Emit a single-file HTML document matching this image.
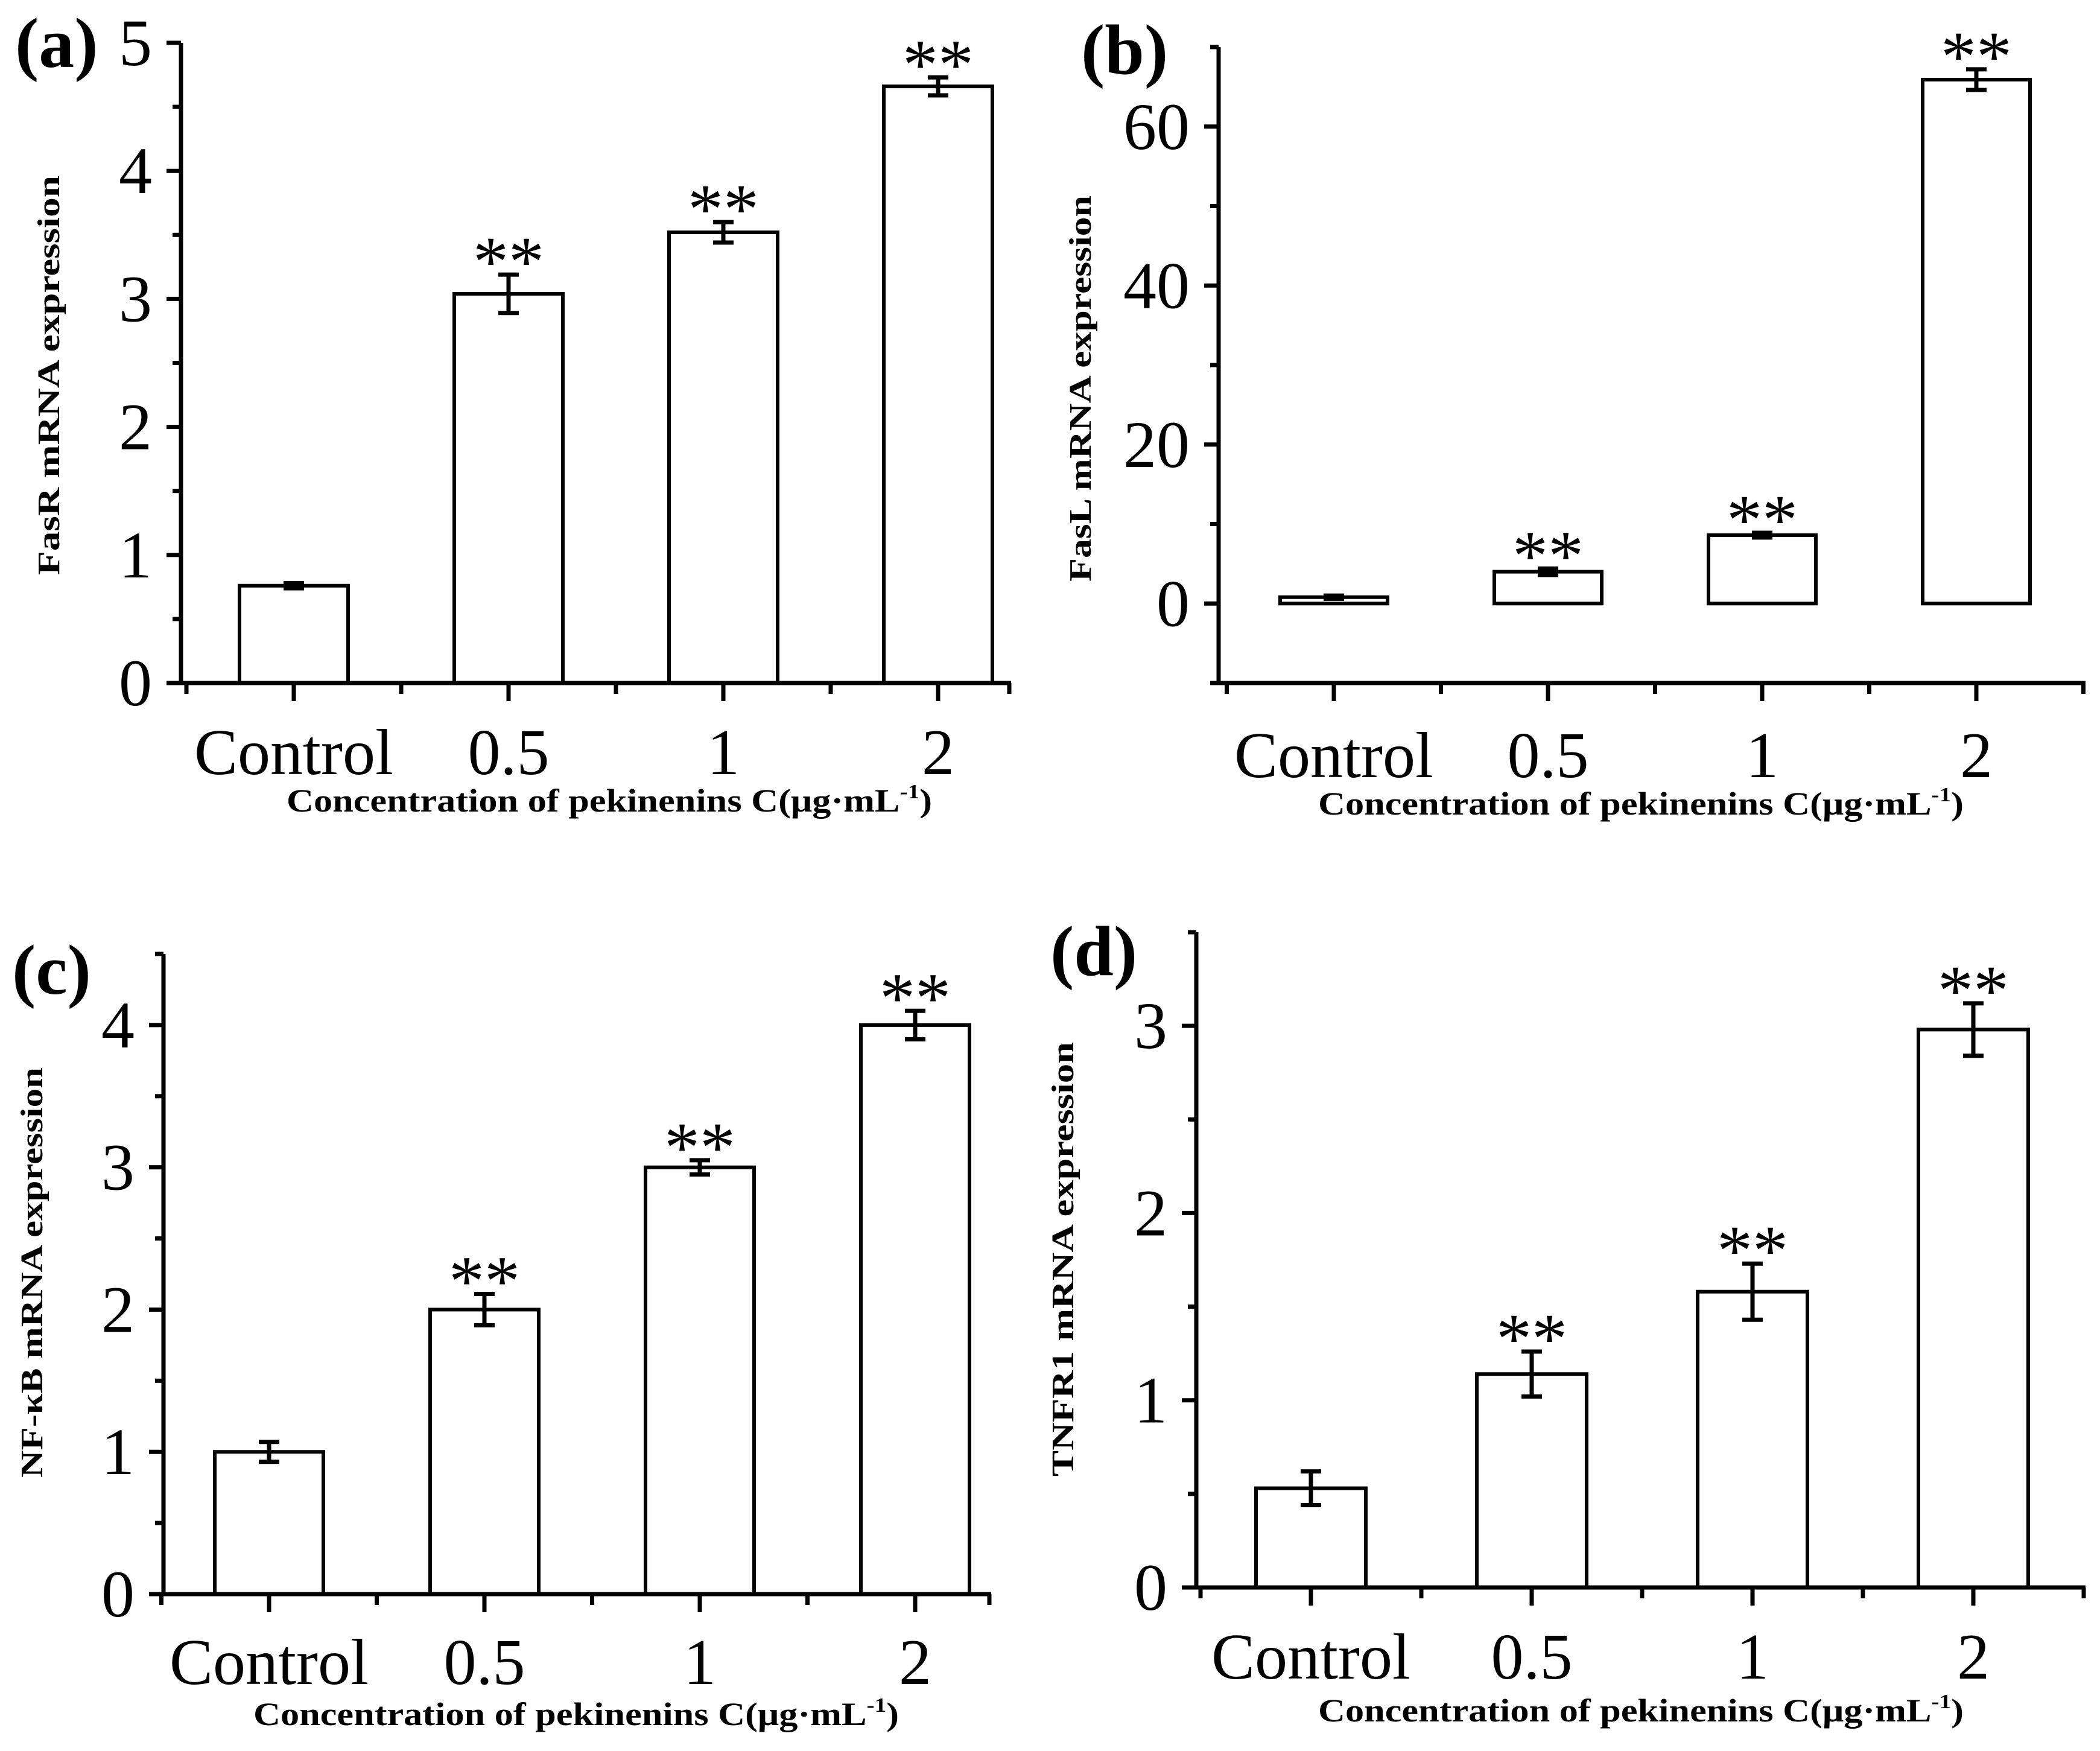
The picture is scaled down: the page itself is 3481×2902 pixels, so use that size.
<!DOCTYPE html>
<html><head><meta charset="utf-8"><style>
html,body{margin:0;padding:0;background:#fff;}
svg{display:block;}
text{font-family:"Liberation Serif",serif;fill:#000;}
</style></head>
<body>
<svg id="fig" width="3481" height="2902" viewBox="0 0 3481 2902" xmlns="http://www.w3.org/2000/svg"></svg>
<script>
// ---- data ----
const categories = ["Control", "0.5", "1", "2"];
const fasRValues = [0.76, 3.04, 3.52, 4.66];
const fasRErrors = [0.02, 0.15, 0.08, 0.07];
const fasLValues = [0.8, 4.0, 8.6, 65.9];
const fasLErrors = [0.2, 0.4, 0.3, 1.3];
const nfkbValues = [1.0, 2.0, 3.0, 4.0];
const nfkbErrors = [0.07, 0.11, 0.05, 0.1];
const tnfrValues = [0.53, 1.14, 1.58, 2.98];
const tnfrErrors = [0.09, 0.12, 0.15, 0.14];
const fasRTicks = [0, 1, 2, 3, 4, 5];
const fasLTicks = [0, 20, 40, 60];
const nfkbTicks = [0, 1, 2, 3, 4];
const tnfrTicks = [0, 1, 2, 3];
const significance = ["", "**", "**", "**"];

const NS = "http://www.w3.org/2000/svg";
const svg = document.getElementById("fig");
function mk(tag, attrs, parent) {
  const e = document.createElementNS(NS, tag);
  for (const k in attrs) e.setAttribute(k, attrs[k]);
  (parent || svg).appendChild(e);
  return e;
}

function panel(p) {
  const g = mk("g", {});
  
  
  const y = v => p.yBot - (v - p.min) / (p.max - p.min) * (p.yBot - p.yTop);
  const xc = i => p.c0 + i * p.step;
  const bw = p.bw;
  p.values.forEach((v, i) => {
    const top = y(v), base = y(Math.max(0, p.min));
    const r = mk("rect", {x: xc(i) - bw / 2, y: top, width: bw, height: base - top, fill: "#fff", stroke: "#000", "stroke-width": 6}, g);
    
    
    const e = p.errors[i];
    const eg = mk("g", {stroke: "#000", "stroke-width": 7}, g);
    
    
    mk("line", {x1: xc(i), x2: xc(i), y1: y(v + e), y2: y(v - e)}, eg);
    mk("line", {x1: xc(i) - 17, x2: xc(i) + 17, y1: y(v + e), y2: y(v + e)}, eg);
    mk("line", {x1: xc(i) - 17, x2: xc(i) + 17, y1: y(v - e), y2: y(v - e)}, eg);
    if (significance[i]) {
      const s = mk("text", {x: xc(i), y: y(v + e) + 18, "font-size": 118, "text-anchor": "middle"}, g);
      s.textContent = significance[i];
      
      
    }
  });
  const ax = mk("g", {stroke: "#000", "stroke-width": 7, fill: "none"}, g);
  
  
  mk("line", {x1: p.x0, x2: p.x0, y1: p.yTop, y2: p.yBot + 3}, ax);
  mk("line", {x1: p.x0 - 3, x2: p.x1, y1: p.yBot, y2: p.yBot}, ax);
  for (let v = p.min; v <= p.max + 1e-9; v += p.minor) {
    const major = Math.abs(((v - p.min) / p.minor) % 2) < 1e-6 === p.majorEven;
    mk("line", {x1: p.x0 - (major ? 24 : 14), x2: p.x0, y1: y(v), y2: y(v)}, ax);
  }
  p.ticks.forEach(t => {
    const tl = mk("text", {x: p.x0 - 48, y: y(t) + 37, "font-size": 110, "text-anchor": "end"}, g);
    tl.textContent = t;
    
    
  });
  categories.forEach((c, i) => {
    mk("line", {x1: xc(i), x2: xc(i), y1: p.yBot, y2: p.yBot + 30}, ax);
    mk("line", {x1: xc(i) - p.step / 2, x2: xc(i) - p.step / 2, y1: p.yBot, y2: p.yBot + 18}, ax);
    const cl = mk("text", {x: xc(i), y: p.catY, "font-size": 108, "text-anchor": "middle"}, g);
    cl.textContent = c;
    
    
  });
  const endX = Math.min(xc(3) + p.step / 2, p.x1 - 3);
  mk("line", {x1: endX, x2: endX, y1: p.yBot, y2: p.yBot + 18}, ax);
  const xt = mk("text", {x: p.xtX, y: p.xtY, "font-size": 54, "font-weight": "bold", "text-anchor": "middle", textLength: 1070, lengthAdjust: "spacingAndGlyphs"}, g);
  xt.innerHTML = 'Concentration of pekinenins C(μg·mL<tspan dy="-22" font-size="34">-1</tspan><tspan dy="22">)</tspan>';
  
  
  const yt = mk("text", {x: 0, y: 0, "font-size": 52, "font-weight": "bold", "text-anchor": "middle", textLength: p.ytLen, lengthAdjust: "spacingAndGlyphs", transform: `translate(${p.ytX},${p.ytY}) rotate(-90)`}, g);
  yt.textContent = p.ytitle;
  
  
  const pl = mk("text", {x: p.lx, y: p.ly, "font-size": 118, "font-weight": "bold"}, g);
  pl.textContent = p.label;
  
  
}

panel({name: "panel-a-fasr", values: fasRValues, errors: fasRErrors, ticks: fasRTicks, min: 0, max: 5, minor: 0.5, majorEven: true,
  x0: 300, x1: 1676, yTop: 71, yBot: 1132, c0: 487, step: 356, bw: 180, catY: 1283, xtX: 1010, xtY: 1345,
  ytitle: "FasR mRNA expression", ytX: 98, ytY: 622, ytLen: 662, label: "(a)", lx: 25, ly: 111});
panel({name: "panel-b-fasl", values: fasLValues, errors: fasLErrors, ticks: fasLTicks, min: -10, max: 70, minor: 10, majorEven: false,
  x0: 2020, x1: 3457, yTop: 78, yBot: 1132, c0: 2211, step: 355, bw: 178, catY: 1288, xtX: 2720, xtY: 1350,
  ytitle: "FasL mRNA expression", ytX: 1808, ytY: 644, ytLen: 640, label: "(b)", lx: 1792, ly: 122});
panel({name: "panel-c-nfkb", values: nfkbValues, errors: nfkbErrors, ticks: nfkbTicks, min: 0, max: 4.5, minor: 0.5, majorEven: true,
  x0: 271, x1: 1643, yTop: 1581, yBot: 2642, c0: 446, step: 357, bw: 180, catY: 2791, xtX: 955, xtY: 2859,
  ytitle: "NF-κB mRNA expression", ytX: 70, ytY: 2109, ytLen: 680, label: "(c)", lx: 20, ly: 1647});
panel({name: "panel-d-tnfr1", values: tnfrValues, errors: tnfrErrors, ticks: tnfrTicks, min: 0, max: 3.5, minor: 0.5, majorEven: true,
  x0: 1983, x1: 3457, yTop: 1545, yBot: 2631, c0: 2173, step: 366, bw: 182, catY: 2782, xtX: 2720, xtY: 2853,
  ytitle: "TNFR1 mRNA expression", ytX: 1779, ytY: 2087, ytLen: 720, label: "(d)", lx: 1741, ly: 1616});
</script>
</body></html>
